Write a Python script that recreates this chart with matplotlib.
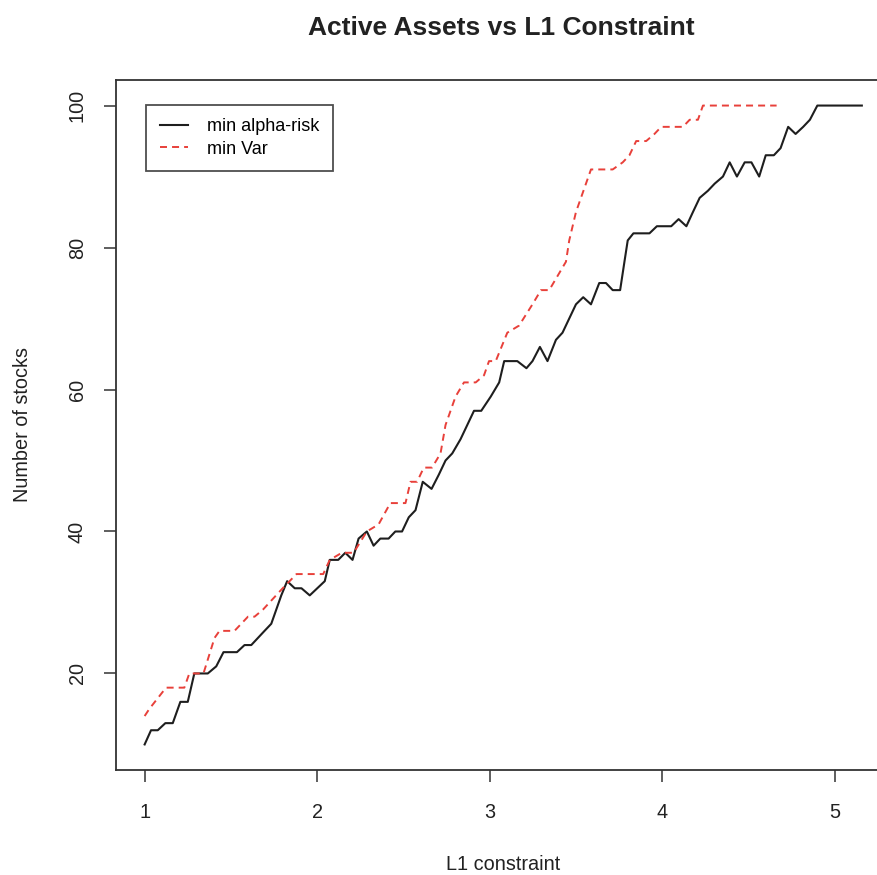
import numpy as np
import matplotlib
matplotlib.use("Agg")
from matplotlib import pyplot as plt

plt.rcParams['font.family'] = ['Liberation Sans', 'DejaVu Sans']

# min alpha-risk (solid black)
alpha_x = [1.0, 1.037, 1.076, 1.12, 1.163, 1.207, 1.25, 1.288, 1.366, 1.415,
           1.457, 1.535, 1.579, 1.618, 1.695, 1.734, 1.792, 1.826, 1.87, 1.909,
           1.957, 2.044, 2.073, 2.122, 2.163, 2.205, 2.24, 2.288, 2.327, 2.366,
           2.414, 2.453, 2.492, 2.531, 2.57, 2.612, 2.663, 2.705, 2.744, 2.783,
           2.831, 2.909, 2.951, 3.006, 3.055, 3.084, 3.16, 3.213, 3.248, 3.291,
           3.335, 3.384, 3.422, 3.461, 3.5, 3.542, 3.587, 3.635, 3.674, 3.713,
           3.756, 3.781, 3.8, 3.833, 3.926, 3.969, 4.052, 4.095, 4.14, 4.178,
           4.217, 4.265, 4.304, 4.352, 4.391, 4.433, 4.478, 4.517, 4.562, 4.6,
           4.647, 4.686, 4.73, 4.773, 4.817, 4.856, 4.899, 5.157]
alpha_y = [10, 12, 12, 13, 13, 16, 16, 20, 20, 21,
           23, 23, 24, 24, 26, 27, 31, 33, 32, 32,
           31, 33, 36, 36, 37, 36, 39, 40, 38, 39,
           39, 40, 40, 42, 43, 47, 46, 48, 50, 51,
           53, 57, 57, 59, 61, 64, 64, 63, 64, 66,
           64, 67, 68, 70, 72, 73, 72, 75, 75, 74,
           74, 78, 81, 82, 82, 83, 83, 84, 83, 85,
           87, 88, 89, 90, 92, 90, 92, 92, 90, 93,
           93, 94, 97, 96, 97, 98, 100, 100]

# min Var (dashed red)
var_x = [1.0, 1.027, 1.124, 1.23, 1.259, 1.341, 1.405, 1.434, 1.521, 1.599,
         1.637, 1.686, 1.80, 1.84, 1.88, 2.035, 2.073, 2.143, 2.211, 2.288,
         2.356, 2.424, 2.512, 2.541, 2.579, 2.618, 2.666, 2.715, 2.744, 2.802,
         2.851, 2.919, 2.967, 2.996, 3.035, 3.102, 3.17, 3.248, 3.297, 3.345,
         3.442, 3.461, 3.5, 3.587, 3.626, 3.713, 3.771, 3.81, 3.849, 3.907,
         3.955, 3.994, 4.12, 4.159, 4.207, 4.236, 4.663]
var_y = [14, 15, 18, 18, 20, 20, 25, 26, 26, 28,
         28, 29, 32, 33, 34, 34, 36, 37, 37, 40,
         41, 44, 44, 47, 47, 49, 49, 51, 55, 59,
         61, 61, 62, 64, 64, 68, 69, 72, 74, 74,
         78, 81, 85, 91, 91, 91, 92, 93, 95, 95,
         96, 97, 97, 98, 98, 100, 100]

fig = plt.figure(figsize=(8.77, 8.75), dpi=100)
W, H = 877.0, 875.0
ax = fig.add_axes([116 / W, 1 - 770 / H, (891 - 116) / W, (770 - 80) / H])

ax.plot(alpha_x, alpha_y, '-', color='#1e1e1e', lw=1.5, label='min alpha-risk')
ax.plot(var_x, var_y, '--', color='#e8403a', lw=1.4, dashes=(3.6, 2.6), label='min Var')

ax.set_xlim(0.834, 5.326)
ax.set_ylim(6.4, 103.6)
ax.set_xticks([1, 2, 3, 4, 5])
ax.set_yticks([20, 40, 60, 80, 100])
ax.tick_params(direction='out', length=8.5, width=1.1, color='#333333',
               labelsize=14.3, labelcolor='#222222')
ax.tick_params(axis='x', pad=15)
ax.tick_params(axis='y', pad=12.6)
for lab in ax.get_yticklabels():
    lab.set_rotation(90)
    lab.set_va('center')
for s in ax.spines.values():
    s.set_linewidth(1.3)
    s.set_color('#333333')

ax.set_xlabel('L1 constraint', fontsize=14.3, color='#222222', labelpad=24)
ax.set_ylabel('Number of stocks', fontsize=14.3, color='#222222', labelpad=26)
fig.text(501 / W, 1 - 28 / H, 'Active Assets vs L1 Constraint', fontsize=19,
         fontweight='bold', color='#222222', ha='center', va='center')

leg = ax.legend(loc='upper left', bbox_to_anchor=(0.0387, 0.964), borderaxespad=0,
                fontsize=13, frameon=True, fancybox=False, handlelength=1.55,
                handletextpad=1.1, borderpad=0.75, labelspacing=0.3)
leg.get_frame().set_edgecolor('#222222')
leg.get_frame().set_linewidth(1.3)

plt.savefig('out.png', dpi=100)
